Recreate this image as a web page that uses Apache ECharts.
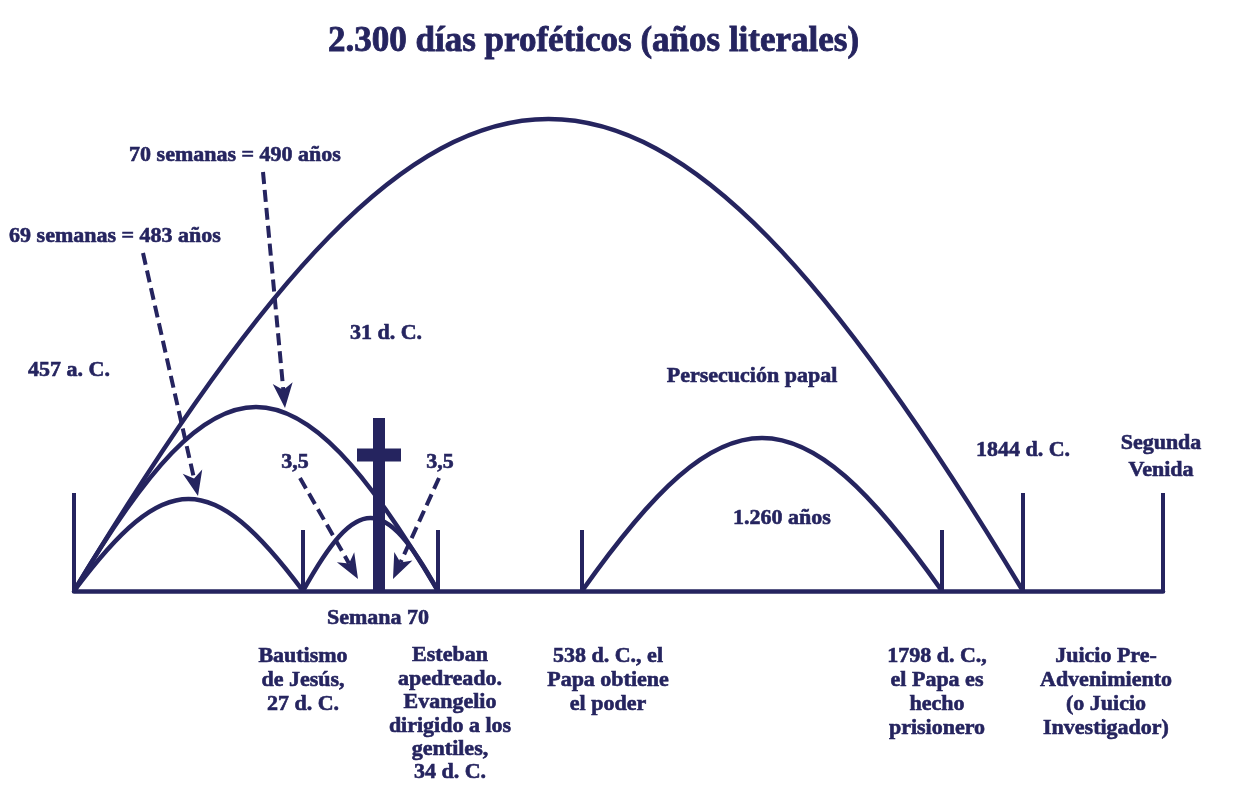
<!DOCTYPE html>
<html>
<head>
<meta charset="utf-8">
<script src="https://cdn.jsdelivr.net/npm/echarts@6/dist/echarts.min.js"></script>
<style>html,body{margin:0;padding:0;background:#fff}#c{width:1236px;height:794px}</style>
</head>
<body>
<div id="c"></div>
<script>
const NAVY = '#25245f';
const FONT = '"Liberation Serif", "Times New Roman", serif';

// Timeline markers (schematic positions along the line, not to scale)
const markerNames = ['457 a. C.', '27 d. C.', '34 d. C.', '538 d. C.', '1798 d. C.', '1844 d. C.', 'Segunda Venida'];
const markerPos = [0, 229, 364, 508, 868, 949, 1089];
const markerHeight = [98, 61, 61, 61, 61, 98, 98];

// Prophetic periods drawn as arcs (start, end, arc height)
const periodNames = ['2.300 años', '70 semanas', '69 semanas', 'Semana 70', '1.260 años'];
const periodStart = [0, 0, 0, 229, 508];
const periodEnd = [949, 364, 229, 364, 868];
const periodHeight = [472, 184, 92, 73, 153];

// Cross (31 d. C.): position, top, crossbar level
const crossValue = [305, 173, 136];

// Text annotations
const topLabels = [
  { text: '70 semanas = 490 años', at: [161, 436] },
  { text: '69 semanas = 483 años', at: [41, 355] },
  { text: '457 a. C.', at: [-5, 221] },
  { text: '31 d. C.', at: [312, 258] },
  { text: '3,5', at: [221, 129] },
  { text: '3,5', at: [366, 129] },
  { text: 'Persecución papal', at: [678, 215] },
  { text: '1.260 años', at: [708, 73] },
  { text: '1844 d. C.', at: [949, 141] },
  { text: 'Segunda\nVenida', at: [1087, 134], lh: 27 },
  { text: 'Semana 70', at: [304, -27] }
];
const bottomLabels = [
  { text: 'Bautismo\nde Jesús,\n27 d. C.', at: [229, -53] },
  { text: 'Esteban\napedreado.\nEvangelio\ndirigido a los\ngentiles,\n34 d. C.', at: [376, -53], lh: 23.4 },
  { text: '538 d. C., el\nPapa obtiene\nel poder', at: [534, -53] },
  { text: '1798 d. C.,\nel Papa es\nhecho\nprisionero', at: [863, -53] },
  { text: 'Juicio Pre-\nAdvenimiento\n(o Juicio\nInvestigador)', at: [1032, -53] }
];

// Dashed pointer arrows (from x, from y, to x, to y)
const arrows = [
  [69, 338, 124, 95],
  [189, 419, 211, 183],
  [226, 113, 284, 12],
  [365, 113, 319, 12]
];

const chart = echarts.init(document.getElementById('c'));

const labelStyle = (lh, pos) => ({
  show: true,
  position: pos,
  distance: 0,
  color: NAVY,
  opacity: 1,
  fontFamily: FONT,
  fontWeight: 'bold',
  fontSize: 22,
  lineHeight: lh || 24,
  align: 'center',
  textBorderColor: NAVY,
  textBorderWidth: 0.6
});

chart.setOption({
  animation: false,
  backgroundColor: '#fff',
  title: {
    text: '2.300 días proféticos (años literales)',
    left: 328, top: 24, padding: 0,
    textStyle: { color: NAVY, fontFamily: FONT, fontWeight: 'bold', fontSize: 35,
                 textBorderColor: NAVY, textBorderWidth: 0.8 }
  },
  grid: { left: 74, right: 73, top: 119, bottom: 0 },
  xAxis: {
    type: 'value', min: 0, max: 1089,
    axisLine: { show: true, onZero: true, lineStyle: { color: NAVY, width: 4.5 } },
    axisTick: { show: false }, axisLabel: { show: false }, splitLine: { show: false }
  },
  yAxis: {
    type: 'value', min: -203, max: 472,
    axisLine: { show: false }, axisTick: { show: false }, axisLabel: { show: false }, splitLine: { show: false }
  },
  series: [
    {
      type: 'custom', name: 'markers', clip: false, silent: true,
      data: markerPos.map((p, i) => ({ name: markerNames[i], value: [p, markerHeight[i]] })),
      renderItem: (params, api) => {
        const a = api.coord([api.value(0), 0]);
        const b = api.coord([api.value(0), api.value(1)]);
        return { type: 'line', shape: { x1: a[0], y1: a[1] + 2, x2: b[0], y2: b[1] },
                 style: { stroke: NAVY, lineWidth: 4 } };
      }
    },
    {
      type: 'custom', name: 'periods', clip: false, silent: true,
      data: periodStart.map((s, i) => ({ name: periodNames[i], value: [s, periodEnd[i], periodHeight[i]] })),
      renderItem: (params, api) => {
        const s = api.value(0), e = api.value(1), h = api.value(2);
        const off = (e - s) * 0.4, k = h / 0.75;
        const p0 = api.coord([s, 0]), p1 = api.coord([e, 0]);
        const c1 = api.coord([s + off, k]), c2 = api.coord([e - off, k]);
        return { type: 'bezierCurve',
                 shape: { x1: p0[0], y1: p0[1], x2: p1[0], y2: p1[1], cpx1: c1[0], cpy1: c1[1], cpx2: c2[0], cpy2: c2[1] },
                 style: { stroke: NAVY, lineWidth: 4.5, fill: null } };
      }
    },
    {
      type: 'custom', name: 'cross', clip: false, silent: true,
      data: [crossValue],
      renderItem: (params, api) => {
        const base = api.coord([api.value(0), 0]);
        const top = api.coord([api.value(0), api.value(1)]);
        const bar = api.coord([api.value(0), api.value(2)]);
        return { type: 'group', children: [
          { type: 'rect', shape: { x: base[0] - 6, y: top[1], width: 12, height: base[1] - top[1] + 2 }, style: { fill: NAVY } },
          { type: 'rect', shape: { x: bar[0] - 22, y: bar[1] - 6.5, width: 44, height: 13 }, style: { fill: NAVY } }
        ] };
      }
    },
    {
      type: 'custom', name: 'arrows', clip: false, silent: true,
      data: arrows,
      renderItem: (params, api) => {
        const p0 = api.coord([api.value(0), api.value(1)]);
        const p1 = api.coord([api.value(2), api.value(3)]);
        const dx = p1[0] - p0[0], dy = p1[1] - p0[1];
        const len = Math.sqrt(dx * dx + dy * dy);
        const ux = dx / len, uy = dy / len, nx = -uy, ny = ux;
        const L = 25, W = 10;
        const back = [p1[0] - L * ux, p1[1] - L * uy];
        const notch = [p1[0] - 0.72 * L * ux, p1[1] - 0.72 * L * uy];
        return { type: 'group', children: [
          { type: 'line', shape: { x1: p0[0], y1: p0[1], x2: notch[0], y2: notch[1] },
            style: { stroke: NAVY, lineWidth: 4, lineDash: [12, 6] } },
          { type: 'polygon', shape: { points: [
              p1,
              [back[0] + W * nx, back[1] + W * ny],
              notch,
              [back[0] - W * nx, back[1] - W * ny]
            ] }, style: { fill: NAVY } }
        ] };
      }
    },
    {
      type: 'scatter', clip: false, silent: true, symbolSize: 0, itemStyle: { opacity: 1 },
      data: topLabels.map(l => ({ value: l.at, label: Object.assign(labelStyle(l.lh, 'inside'), { formatter: l.text }) }))
    },
    {
      type: 'scatter', clip: false, silent: true, symbolSize: 0, itemStyle: { opacity: 1 },
      data: bottomLabels.map(l => ({ value: l.at, label: Object.assign(labelStyle(l.lh, 'bottom'), { formatter: l.text }) }))
    }
  ]
});
</script>
</body>
</html>
